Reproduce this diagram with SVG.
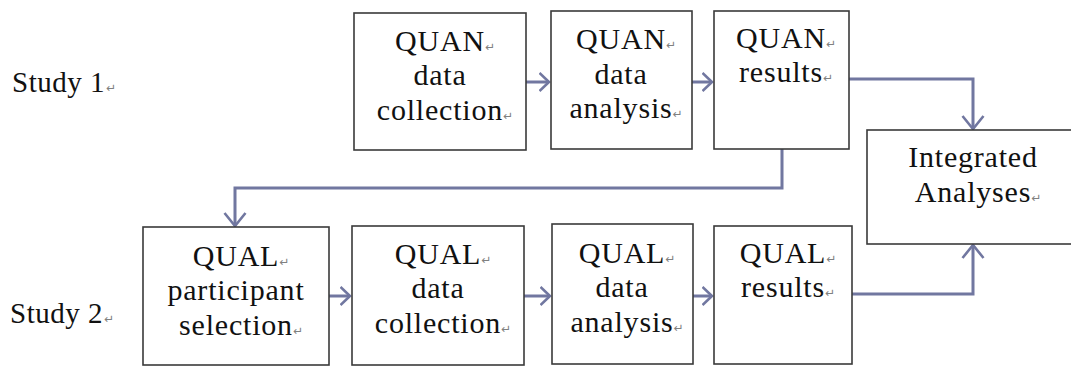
<svg xmlns="http://www.w3.org/2000/svg" width="1071" height="366" viewBox="0 0 1071 366">
  <style>
    .box { fill: #ffffff; stroke: #3a3a3a; stroke-width: 1.6; }
    .lbl { font-family: "Liberation Serif", "Times New Roman", serif; font-size: 30px; letter-spacing: 0.8px; fill: #111111; text-anchor: middle; }
    .side { font-family: "Liberation Serif", "Times New Roman", serif; font-size: 29px; letter-spacing: 0.5px; fill: #111111; }
    .ret { font-family: "DejaVu Sans", sans-serif; font-size: 12px; letter-spacing: 0; fill: #808080; }
    .wire { fill: none; stroke: #7177a0; stroke-width: 3; }
  </style>
  <defs>
    <marker id="chev" viewBox="0 0 16 24" refX="14" refY="12" markerWidth="16" markerHeight="24" markerUnits="userSpaceOnUse" orient="auto">
      <path d="M1,1.5 L14,12 L1,22.5" fill="none" stroke="#7177a0" stroke-width="2.6"/>
    </marker>
    <marker id="chevSmall" viewBox="0 0 12 22" refX="10.5" refY="11" markerWidth="12" markerHeight="22" markerUnits="userSpaceOnUse" orient="auto">
      <path d="M1,2 L10.5,11 L1,20" fill="none" stroke="#7177a0" stroke-width="2.6"/>
    </marker>
  </defs>

  <rect width="1071" height="366" fill="#ffffff"/>

  <!-- row labels -->
  <g id="study1">
    <text class="side" x="12" y="92">Study 1<tspan class="ret" dx="1">↵</tspan></text>
  </g>
  <g id="study2">
    <text class="side" x="10" y="323">Study 2<tspan class="ret" dx="1">↵</tspan></text>
  </g>

  <!-- connectors -->
  <g id="connectors">
    <line class="wire" x1="526" y1="82" x2="549" y2="82" marker-end="url(#chevSmall)"/>
    <line class="wire" x1="692" y1="82" x2="712" y2="82" marker-end="url(#chevSmall)"/>
    <line class="wire" x1="329" y1="296" x2="350" y2="296" marker-end="url(#chevSmall)"/>
    <line class="wire" x1="524" y1="296" x2="550" y2="296" marker-end="url(#chevSmall)"/>
    <line class="wire" x1="693" y1="296" x2="712" y2="296" marker-end="url(#chevSmall)"/>
    <polyline class="wire" points="849,79 973,79 973,129" marker-end="url(#chev)"/>
    <polyline class="wire" points="852,294 973,294 973,245" marker-end="url(#chev)"/>
    <polyline class="wire" points="782,149 782,188 235,188 235,226" marker-end="url(#chev)"/>
  </g>

  <!-- study 1 nodes -->
  <g id="quan-collection">
    <rect class="box" x="354" y="13" width="172" height="137"/>
    <text class="lbl" x="445" y="51">QUAN<tspan class="ret">↵</tspan></text>
    <text class="lbl" x="440" y="85">data</text>
    <text class="lbl" x="445" y="120">collection<tspan class="ret">↵</tspan></text>
  </g>
  <g id="quan-analysis">
    <rect class="box" x="551" y="11" width="141" height="138"/>
    <text class="lbl" x="626" y="49">QUAN<tspan class="ret">↵</tspan></text>
    <text class="lbl" x="621" y="84">data</text>
    <text class="lbl" x="626" y="118">analysis<tspan class="ret">↵</tspan></text>
  </g>
  <g id="quan-results">
    <rect class="box" x="714" y="11" width="135" height="138"/>
    <text class="lbl" x="786" y="48">QUAN<tspan class="ret">↵</tspan></text>
    <text class="lbl" x="786" y="82">results<tspan class="ret">↵</tspan></text>
  </g>

  <!-- integration node -->
  <g id="integrated">
    <rect class="box" x="867" y="130" width="212" height="114"/>
    <text class="lbl" x="973" y="167">Integrated</text>
    <text class="lbl" x="978" y="202">Analyses<tspan class="ret">↵</tspan></text>
  </g>

  <!-- study 2 nodes -->
  <g id="qual-selection">
    <rect class="box" x="143" y="227" width="186" height="138"/>
    <text class="lbl" x="241" y="266">QUAL<tspan class="ret">↵</tspan></text>
    <text class="lbl" x="236" y="300">participant</text>
    <text class="lbl" x="241" y="335">selection<tspan class="ret">↵</tspan></text>
  </g>
  <g id="qual-collection">
    <rect class="box" x="352" y="226" width="172" height="139"/>
    <text class="lbl" x="443" y="264">QUAL<tspan class="ret">↵</tspan></text>
    <text class="lbl" x="438" y="298">data</text>
    <text class="lbl" x="443" y="333">collection<tspan class="ret">↵</tspan></text>
  </g>
  <g id="qual-analysis">
    <rect class="box" x="552" y="224" width="141" height="140"/>
    <text class="lbl" x="627" y="263">QUAL<tspan class="ret">↵</tspan></text>
    <text class="lbl" x="622" y="297">data</text>
    <text class="lbl" x="627" y="332">analysis<tspan class="ret">↵</tspan></text>
  </g>
  <g id="qual-results">
    <rect class="box" x="714" y="226" width="138" height="138"/>
    <text class="lbl" x="788" y="263">QUAL<tspan class="ret">↵</tspan></text>
    <text class="lbl" x="788" y="297">results<tspan class="ret">↵</tspan></text>
  </g>
</svg>
